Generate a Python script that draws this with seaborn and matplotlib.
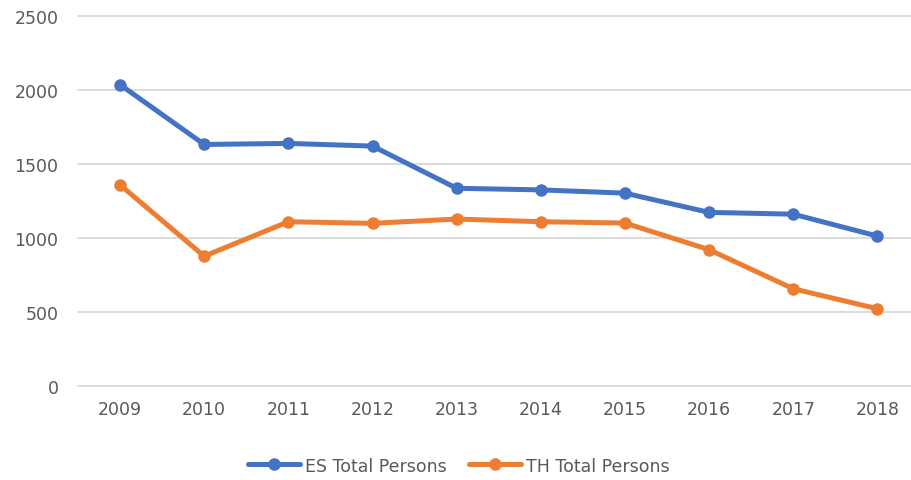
import pandas as pd
import matplotlib.pyplot as plt
import seaborn as sns

# Datos
years = [2009, 2010, 2011, 2012, 2013, 2014, 2015, 2016, 2017, 2018]
es_total = [2036, 1632, 1639, 1621, 1336, 1325, 1303, 1173, 1161, 1013]
th_total = [1359, 877, 1110, 1099, 1128, 1110, 1101, 921, 657, 522]
series_names = ["ES Total Persons", "TH Total Persons"]
colors = ["#4472C4", "#ED7D31"]

df = pd.DataFrame({
    "year": [str(y) for y in years] * 2,
    "value": es_total + th_total,
    "series": [series_names[0]] * len(years) + [series_names[1]] * len(years),
})

sns.set_style("white")
plt.rcParams["font.family"] = ["DejaVu Sans"]

fig = plt.figure(figsize=(9.12, 4.81), dpi=100)
ax = fig.add_axes([0.0855, 0.1954, 0.9135, 0.7693])

sns.lineplot(data=df, x="year", y="value", hue="series", hue_order=series_names,
             palette=colors, marker="o", markersize=9, markeredgewidth=0,
             linewidth=3.6, sort=False, ax=ax)

ax.set_ylim(0, 2500)
ax.set_xlim(-0.5, len(years) - 0.6)
ax.set_yticks([0, 500, 1000, 1500, 2000, 2500])
ax.grid(axis="y", color="#D9D9D9", linewidth=1.3)
for gl in ax.get_ygridlines():
    gl.set_clip_on(False)
ax.set_axisbelow(True)
for s in ax.spines.values():
    s.set_visible(False)
ax.tick_params(axis="both", length=0, labelsize=12.5, labelcolor="#595959")
ax.tick_params(axis="x", pad=10)
ax.tick_params(axis="y", pad=14)
ax.set_xlabel("")
ax.set_ylabel("")

handles, labels = ax.get_legend_handles_labels()
ax.get_legend().remove()
fig.legend(handles, labels, loc="center", bbox_to_anchor=(0.503, 0.03), ncol=2,
           frameon=False, fontsize=12.5, labelcolor="#595959", handlelength=3.0,
           columnspacing=1.3, handletextpad=0.25)

fig.savefig("out.png", dpi=100)
plt.close(fig)
